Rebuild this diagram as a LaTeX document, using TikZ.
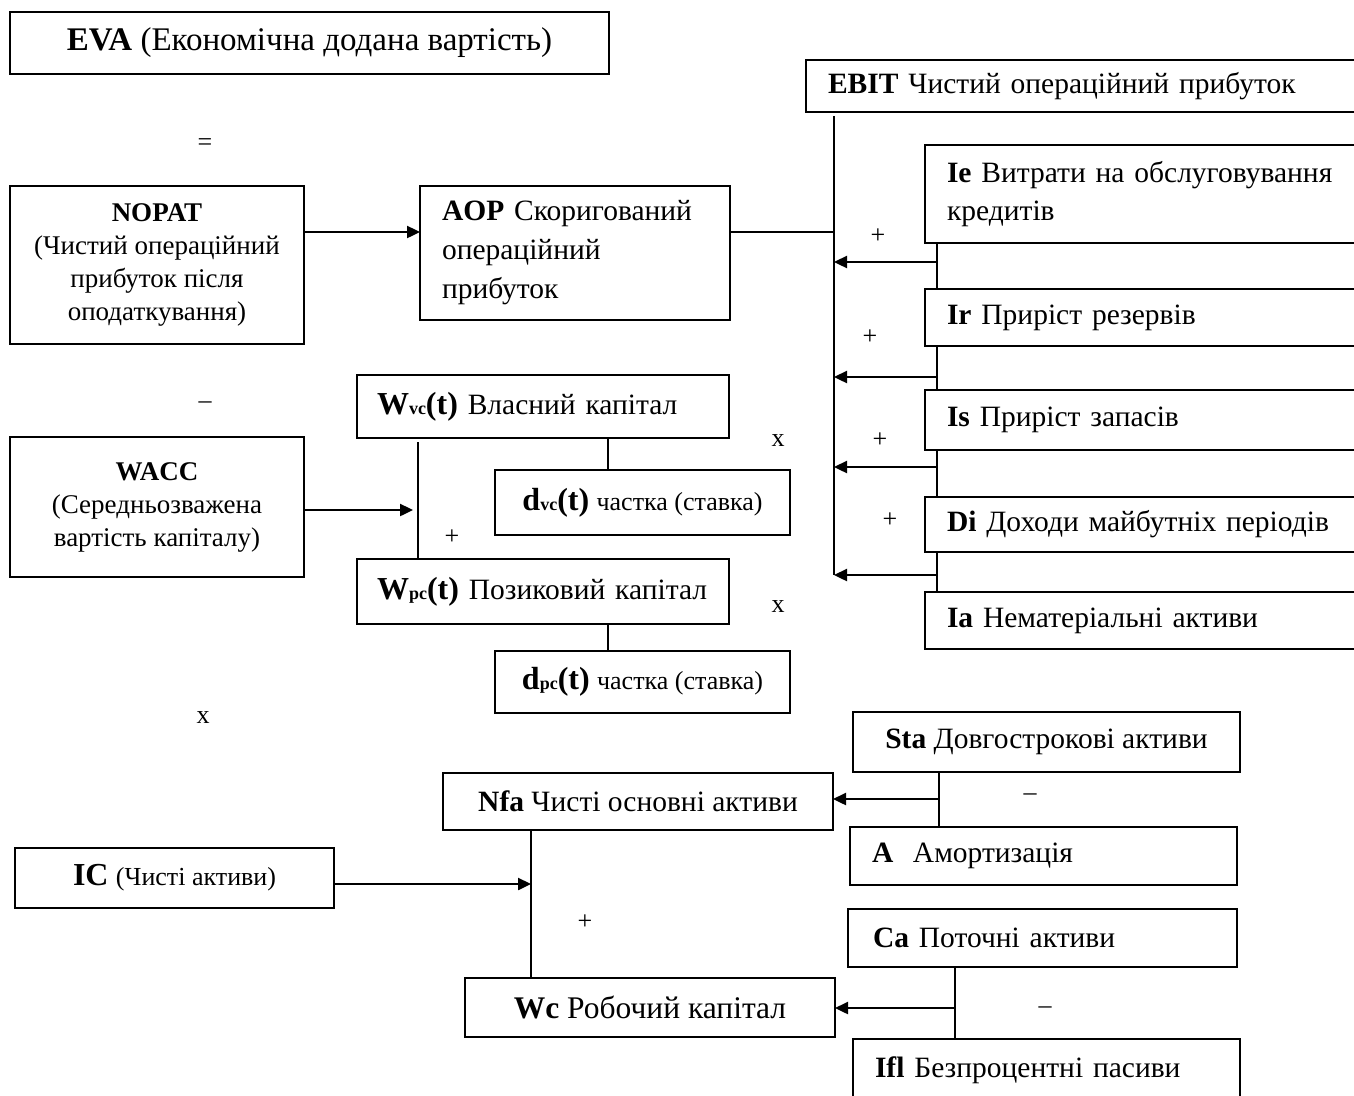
\documentclass[tikz,border=0pt]{standalone}
\usepackage{fontspec}
\setmainfont{Liberation Serif}
\usetikzlibrary{calc,arrows.meta}

\newcommand{\wsub}[1]{{\fontsize{18}{18}\selectfont\bfseries #1}}
\newcommand{\bigb}[1]{{\fontsize{32}{32}\selectfont\bfseries #1}}
\newcommand{\smtxt}[1]{{\fontsize{26}{30}\selectfont #1}}

\begin{document}
\begin{tikzpicture}[x=1pt,y=-1pt,
	blk/.style={draw,line width=1.6pt,inner sep=0pt,outer sep=0pt,align=center,font=\fontsize{29.5}{36}\selectfont},
	lbox/.style={blk,align=left,inner xsep=22pt},
	sgn/.style={inner sep=0pt,font=\fontsize{26}{26}\selectfont},
	arr/.style={line width=2.4pt,-{Triangle[length=13pt,width=12pt]}},
	ln/.style={line width=1.2pt}]
	\useasboundingbox (0,0) rectangle (1354,1095);
	\clip (0,0) rectangle (1354,1095);

	\node[blk,minimum width=599pt,minimum height=62pt,font=\fontsize{33}{40}\selectfont] (eva) at (309.5,43) {\textbf{EVA} (Економічна додана вартість)};
	\node[blk,minimum width=294pt,minimum height=158pt,font=\fontsize{27}{33}\selectfont] (nopat) at (157,265) {\textbf{NOPAT}\\(Чистий операційний\\прибуток після\\оподаткування)};
	\node[lbox,minimum width=310pt,minimum height=134pt,text width=266pt,font=\fontsize{29.5}{39}\selectfont] (aop) at (575,253) {\textbf{AOP} Скоригований\\операційний\\прибуток};
	\node[blk,minimum width=294pt,minimum height=140pt,font=\fontsize{27}{33}\selectfont] (wacc) at (157,507) {\textbf{WACC}\\(Середньозважена\\вартість капіталу)};

	\node[lbox,minimum width=594pt,minimum height=52pt,text width=550pt,inner xsep=20pt] (ebit) at (1103,86) {\textbf{EBIT} Чистий операційний прибуток};
	\node[lbox,minimum width=475pt,minimum height=98pt,text width=431pt,font=\fontsize{29.5}{38}\selectfont] (ie) at (1162.5,194) {\textbf{Ie} Витрати на обслуговування\\кредитів};
	\node[lbox,minimum width=475pt,minimum height=57pt,text width=431pt] (ir) at (1162.5,317.5) {\textbf{Ir} Приріст резервів};
	\node[lbox,minimum width=475pt,minimum height=60pt,text width=431pt] (is) at (1162.5,420) {\textbf{Is} Приріст запасів};
	\node[lbox,minimum width=475pt,minimum height=55pt,text width=431pt] (di) at (1162.5,524.5) {\textbf{Di} Доходи майбутніх періодів};
	\node[lbox,minimum width=475pt,minimum height=57pt,text width=431pt] (ia) at (1162.5,620.5) {\textbf{Ia} Нематеріальні активи};

	\node[lbox,minimum width=372pt,minimum height=63pt,text width=344pt,inner xsep=14pt] (wvc) at (543,406.5) {\hspace*{6pt}\bigb{W}\wsub{vc}\bigb{(t)} Власний капітал};
	\node[blk,minimum width=295pt,minimum height=65pt] (dvc) at (642.5,502.5) {\bigb{d}\wsub{vc}\bigb{(t)} \smtxt{частка (ставка)}};
	\node[lbox,minimum width=372pt,minimum height=65pt,text width=344pt,inner xsep=14pt] (wpc) at (543,591.5) {\hspace*{6pt}\bigb{W}\wsub{pc}\bigb{(t)} Позиковий капітал};
	\node[blk,minimum width=295pt,minimum height=62pt] (dpc) at (642.5,682) {\bigb{d}\wsub{pc}\bigb{(t)} \smtxt{частка (ставка)}};

	\node[blk,minimum width=319pt,minimum height=60pt] (ic) at (174.5,878) {\bigb{IC} \smtxt{(Чисті активи)}};
	\node[blk,minimum width=390pt,minimum height=57pt] (nfa) at (638,801.5) {\textbf{Nfa} Чисті основні активи};
	\node[blk,minimum width=370pt,minimum height=59pt,font=\fontsize{31.5}{36}\selectfont] (wc) at (650,1007.5) {\textbf{Wc} Робочий капітал};
	\node[blk,minimum width=387pt,minimum height=60pt] (sta) at (1046.5,742) {\textbf{Sta} Довгострокові активи};
	\node[lbox,minimum width=387pt,minimum height=58pt,text width=343pt] (am) at (1043.5,856) {\textbf{A}\ \ Амортизація};
	\node[lbox,minimum width=389pt,minimum height=58pt,text width=339pt,inner xsep=25pt] (ca) at (1042.5,938) {\textbf{Ca} Поточні активи};
	\node[lbox,minimum width=387pt,minimum height=62pt,text width=343pt] (ifl) at (1046.5,1070) {\textbf{Ifl} Безпроцентні пасиви};

	\node[sgn] (s1) at (205,145) {=};
	\node[sgn] (s2) at (205,405) {–};
	\node[sgn] (s3) at (203,718) {x};
	\node[sgn] (s4) at (778,441) {x};
	\node[sgn] (s5) at (778,607) {x};
	\node[sgn] (s6) at (452,537) {+};
	\node[sgn] (s7) at (878,236) {+};
	\node[sgn] (s8) at (870,337) {+};
	\node[sgn] (s9) at (880,440) {+};
	\node[sgn] (s10) at (890,520) {+};
	\node[sgn] (s11) at (585,922) {+};
	\node[sgn] (s12) at (1030,797) {–};
	\node[sgn] (s13) at (1045,1010) {–};

	\coordinate (bustop) at (834,116);
	\coordinate (busbot) at (834,575);
	\coordinate (j1) at (937,262);
	\coordinate (j2) at (937,377);
	\coordinate (j3) at (937,467);
	\coordinate (j4) at (937,575);
	\coordinate (jw) at (418,510);
	\coordinate (jn) at (531,884);
	\coordinate (js) at (939,799);
	\coordinate (jc) at (955,1008);

	\draw[arr] ([yshift=33pt]nopat.east) -- ([yshift=21pt]aop.west);
	\draw[ln] ([yshift=21pt]aop.east) -- ([yshift=21pt]aop.east -| bustop);
	\draw[ln] (bustop) -- (busbot);
	\draw[ln] (ie.south -| j1) -- (ir.north -| j1);
	\draw[ln] (ir.south -| j2) -- (is.north -| j2);
	\draw[ln] (is.south -| j3) -- (di.north -| j3);
	\draw[ln] (di.south -| j4) -- (ia.north -| j4);
	\foreach \j in {j1,j2,j3,j4}
		\draw[arr] (\j) -- (\j -| bustop);

	\draw[ln] ([yshift=-4pt]wvc.south -| jw) -- (wpc.north -| jw);
	\draw[arr,shorten >=5pt] (wacc.east |- jw) -- (jw);
	\draw[ln] ([xshift=65pt]wvc.south) -- ([xshift=65pt]wvc.south |- dvc.north);
	\draw[ln] ([xshift=65pt]wpc.south) -- ([xshift=65pt]wpc.south |- dpc.north);

	\draw[ln] (nfa.south -| jn) -- (wc.north -| jn);
	\draw[arr] (ic.east |- jn) -- (jn);
	\draw[ln] (sta.south -| js) -- (am.north -| js);
	\draw[arr] (js) -- (js -| nfa.east);
	\draw[ln] (ca.south -| jc) -- (ifl.north -| jc);
	\draw[arr] (jc) -- (jc -| wc.east);
\end{tikzpicture}
\end{document}
